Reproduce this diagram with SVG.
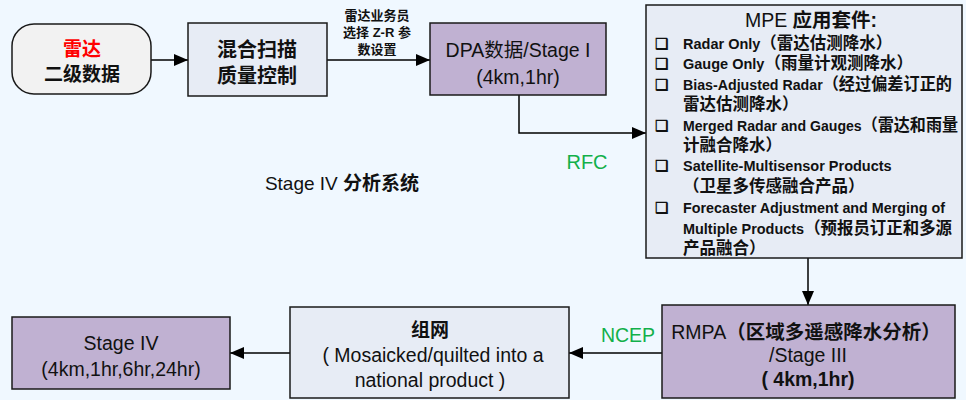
<svg xmlns="http://www.w3.org/2000/svg" width="966" height="400" viewBox="0 0 966 400">
<defs>
<marker id="ah" markerWidth="14" markerHeight="12" refX="14" refY="6" orient="auto" markerUnits="userSpaceOnUse">
<path d="M0,0 L14,6 L0,12 z" fill="#000"/>
</marker>
<style>
.box{stroke:#1a1a1a;stroke-width:1.5}
.grey{fill:#f2f2f2}
.blue{fill:#e7ecf5}
.purple{fill:#c0b1d2}
.t{font-family:"Liberation Sans","Noto Sans CJK SC",sans-serif;fill:#111;text-anchor:middle}
.b{font-weight:bold}
.c{font-family:"Liberation Sans","Noto Sans CJK SC",sans-serif;fill:#111;font-weight:bold;font-size:14.5px}
.z{font-size:16.5px}
.g{fill:#12b04a}
.edge{stroke:#000;stroke-width:1.5;fill:none;marker-end:url(#ah)}
</style>
</defs>
<rect width="966" height="400" fill="#f0f8ff"/>
<g id="connectors">
<path class="edge" d="M151,60 L188,60"/>
<path class="edge" d="M327,60 L430,60"/>
<path class="edge" d="M519,95 L519,133 L646,133"/>
<path class="edge" d="M808,258 L808,305"/>
<path class="edge" d="M662,353 L569,353"/>
<path class="edge" d="M290,353 L230,353"/>
<text class="t b" font-size="13" x="377" y="20">雷达业务员</text>
<text class="t b" font-size="13" x="377" y="37">选择 Z-R 参</text>
<text class="t b" font-size="13" x="377" y="54">数设置</text>
<text class="t g" font-size="20" x="587" y="169">RFC</text>
<text class="t g" font-size="19.5" x="628" y="342">NCEP</text>
</g>
<g id="radar">
<rect class="box grey" x="12" y="24" width="139" height="70" rx="22"/>
<text class="t b" font-size="19" x="82" y="56" style="fill:#ff0000">雷达</text>
<text class="t b" font-size="19" x="82" y="81">二级数据</text>
</g>
<g id="qc">
<rect class="box blue" x="188" y="23" width="139" height="73"/>
<text class="t b" font-size="20" x="257" y="57">混合扫描</text>
<text class="t b" font-size="20" x="257" y="83">质量控制</text>
</g>
<g id="dpa">
<rect class="box purple" x="430" y="23" width="176" height="72"/>
<text class="t" font-size="19.5" x="518" y="57">DPA数据/Stage I</text>
<text class="t" font-size="19.5" x="518" y="84">(4km,1hr)</text>
</g>
<g id="label-stage4">
<text class="t" font-size="19" x="342" y="190">Stage IV <tspan class="b">分析系统</tspan></text>
</g>
<g id="mpe">
<rect class="box blue" x="646" y="5" width="316" height="253"/>
<text class="t" font-size="19.5" x="811" y="27">MPE <tspan class="b">应用套件:</tspan></text>
<g class="c">
<text x="655" y="49">❑</text>
<text x="683" y="49">Radar Only<tspan class="z">（雷达估测降水）</tspan></text>
<text x="655" y="69">❑</text>
<text x="683" y="69">Gauge Only<tspan class="z">（雨量计观测降水）</tspan></text>
<text x="655" y="90">❑</text>
<text x="683" y="90" textLength="269" lengthAdjust="spacingAndGlyphs">Bias-Adjusted Radar<tspan class="z">（经过偏差订正的</tspan></text>
<text x="683" y="110" class="z">雷达估测降水）</text>
<text x="655" y="131">❑</text>
<text x="683" y="131" textLength="275" lengthAdjust="spacingAndGlyphs">Merged Radar and Gauges<tspan class="z">（雷达和雨量</tspan></text>
<text x="683" y="151" class="z">计融合降水）</text>
<text x="655" y="171">❑</text>
<text x="683" y="171">Satellite-Multisensor Products</text>
<text x="683" y="192" class="z">（卫星多传感融合产品）</text>
<text x="655" y="213">❑</text>
<text x="683" y="213" textLength="262" lengthAdjust="spacingAndGlyphs">Forecaster Adjustment and Merging of</text>
<text x="683" y="234" textLength="269" lengthAdjust="spacingAndGlyphs">Multiple Products<tspan class="z">（预报员订正和多源</tspan></text>
<text x="683" y="254" class="z">产品融合）</text>
</g>
</g>
<g id="rmpa">
<rect class="box purple" x="662" y="305" width="293" height="93"/>
<text class="t" font-size="19.5" x="806" y="339">RMPA<tspan class="b">（区域多遥感降水分析）</tspan></text>
<text class="t" font-size="19.5" x="808" y="362">/Stage III</text>
<text class="t b" font-size="19.5" x="808" y="386">( 4km,1hr)</text>
</g>
<g id="mosaic">
<rect class="box blue" x="290" y="307" width="279" height="91"/>
<text class="t b" font-size="19" x="430" y="337">组网</text>
<text class="t" font-size="19.5" x="433" y="362">( Mosaicked/quilted into a</text>
<text class="t" font-size="19.5" x="430" y="387">national product )</text>
</g>
<g id="stage4">
<rect class="box purple" x="12" y="317" width="218" height="72"/>
<text class="t" font-size="19.5" x="121" y="350">Stage IV</text>
<text class="t" font-size="19.5" x="121" y="376">(4km,1hr,6hr,24hr)</text>
</g>
</svg>
